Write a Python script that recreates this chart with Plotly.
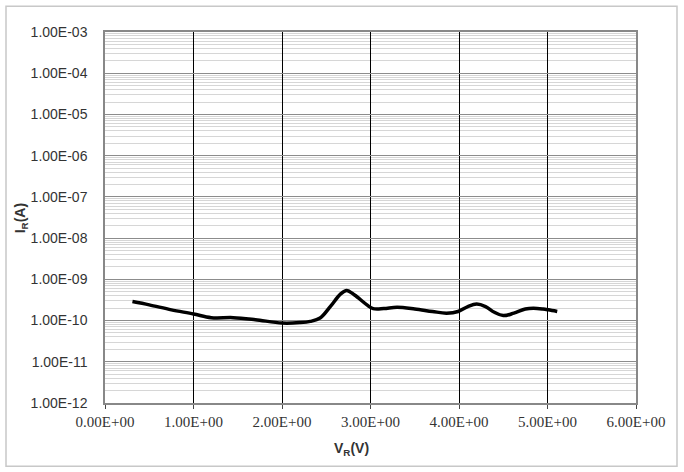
import plotly.graph_objects as go

# Data (reverse voltage V, reverse current A)
vr = [0.31, 0.50, 0.75, 1.00, 1.20, 1.45, 1.70, 2.00, 2.20, 2.32, 2.43, 2.55, 2.66, 2.73, 2.82,
      2.96, 3.03, 3.15, 3.30, 3.50, 3.70, 3.86, 3.99, 4.10, 4.20, 4.30, 4.40, 4.50, 4.62,
      4.75, 4.84, 4.95, 5.01, 5.11]
ir_log = [-9.54, -9.62, -9.74, -9.84, -9.93, -9.93, -9.98, -10.06, -10.05, -10.02, -9.94, -9.65,
          -9.36, -9.27, -9.38, -9.62, -9.71, -9.71, -9.68, -9.72, -9.78, -9.82, -9.78, -9.66,
          -9.60, -9.66, -9.80, -9.88, -9.82, -9.72, -9.70, -9.72, -9.74, -9.78]
ir = [10 ** v for v in ir_log]

x_ticks = [0, 1, 2, 3, 4, 5, 6]
x_tick_labels = ["0.00E+00", "1.00E+00", "2.00E+00", "3.00E+00", "4.00E+00", "5.00E+00", "6.00E+00"]
y_ticks = [1e-12, 1e-11, 1e-10, 1e-9, 1e-8, 1e-7, 1e-6, 1e-5, 1e-4, 1e-3]
y_tick_labels = ["1.00E-12", "1.00E-11", "1.00E-10", "1.00E-09", "1.00E-08",
                 "1.00E-07", "1.00E-06", "1.00E-05", "1.00E-04", "1.00E-03"]

fig = go.Figure()
fig.add_trace(go.Scatter(
    x=vr, y=ir, mode="lines",
    line=dict(color="black", width=3.5, shape="spline", smoothing=1.0),
    showlegend=False, hoverinfo="skip",
))

fig.update_layout(
    width=684, height=472,
    margin=dict(l=105, r=48, t=32, b=69),
    paper_bgcolor="white", plot_bgcolor="white",
    xaxis=dict(
        range=[0, 6], tickvals=x_ticks, ticktext=x_tick_labels,
        showgrid=True, gridcolor="black", gridwidth=1,
        ticks="outside", ticklen=4, tickcolor="#444",
        tickfont=dict(family="Liberation Serif", size=15, color="#333"),
        showline=True, linecolor="#888", linewidth=1.5, mirror=True,
        zeroline=False,
    ),
    yaxis=dict(
        type="log", range=[-12, -3], tickvals=y_ticks, ticktext=y_tick_labels,
        showgrid=True, gridcolor="#8c8c8c", gridwidth=1.2,
        minor=dict(showgrid=True, gridcolor="#d6d6d6", gridwidth=1, dtick="D1"),
        ticks="", ticklabelstandoff=13,
        tickfont=dict(family="Liberation Sans", size=14, color="#333"),
        showline=True, linecolor="#888", linewidth=1.5, mirror=True,
        zeroline=False,
    ),
    annotations=[
        dict(text="<b>V<sub>R</sub>(V)</b>", xref="paper", yref="paper",
             x=(351 - 105) / 531, y=(402.7 - 449) / 371, showarrow=False,
             xanchor="center", yanchor="middle",
             font=dict(family="Liberation Sans", size=14, color="#333")),
        dict(text="<b>I<sub>R</sub>(A)</b>", xref="paper", yref="paper",
             x=(21 - 105) / 531, y=(402.7 - 218) / 371, showarrow=False, textangle=-90,
             xanchor="center", yanchor="middle",
             font=dict(family="Liberation Sans", size=14, color="#333")),
    ],
    shapes=[
        dict(type="rect", xref="paper", yref="paper",
             x0=(6 - 105) / 531, x1=(677 - 105) / 531,
             y0=(402.7 - 466) / 371, y1=(402.7 - 6) / 371,
             line=dict(color="#c8c8c8", width=1.5), layer="below"),
    ],
)

fig.write_html("out.html", config={"displayModeBar": False},
               post_script="document.body.style.margin='0';document.body.style.padding='0';")
